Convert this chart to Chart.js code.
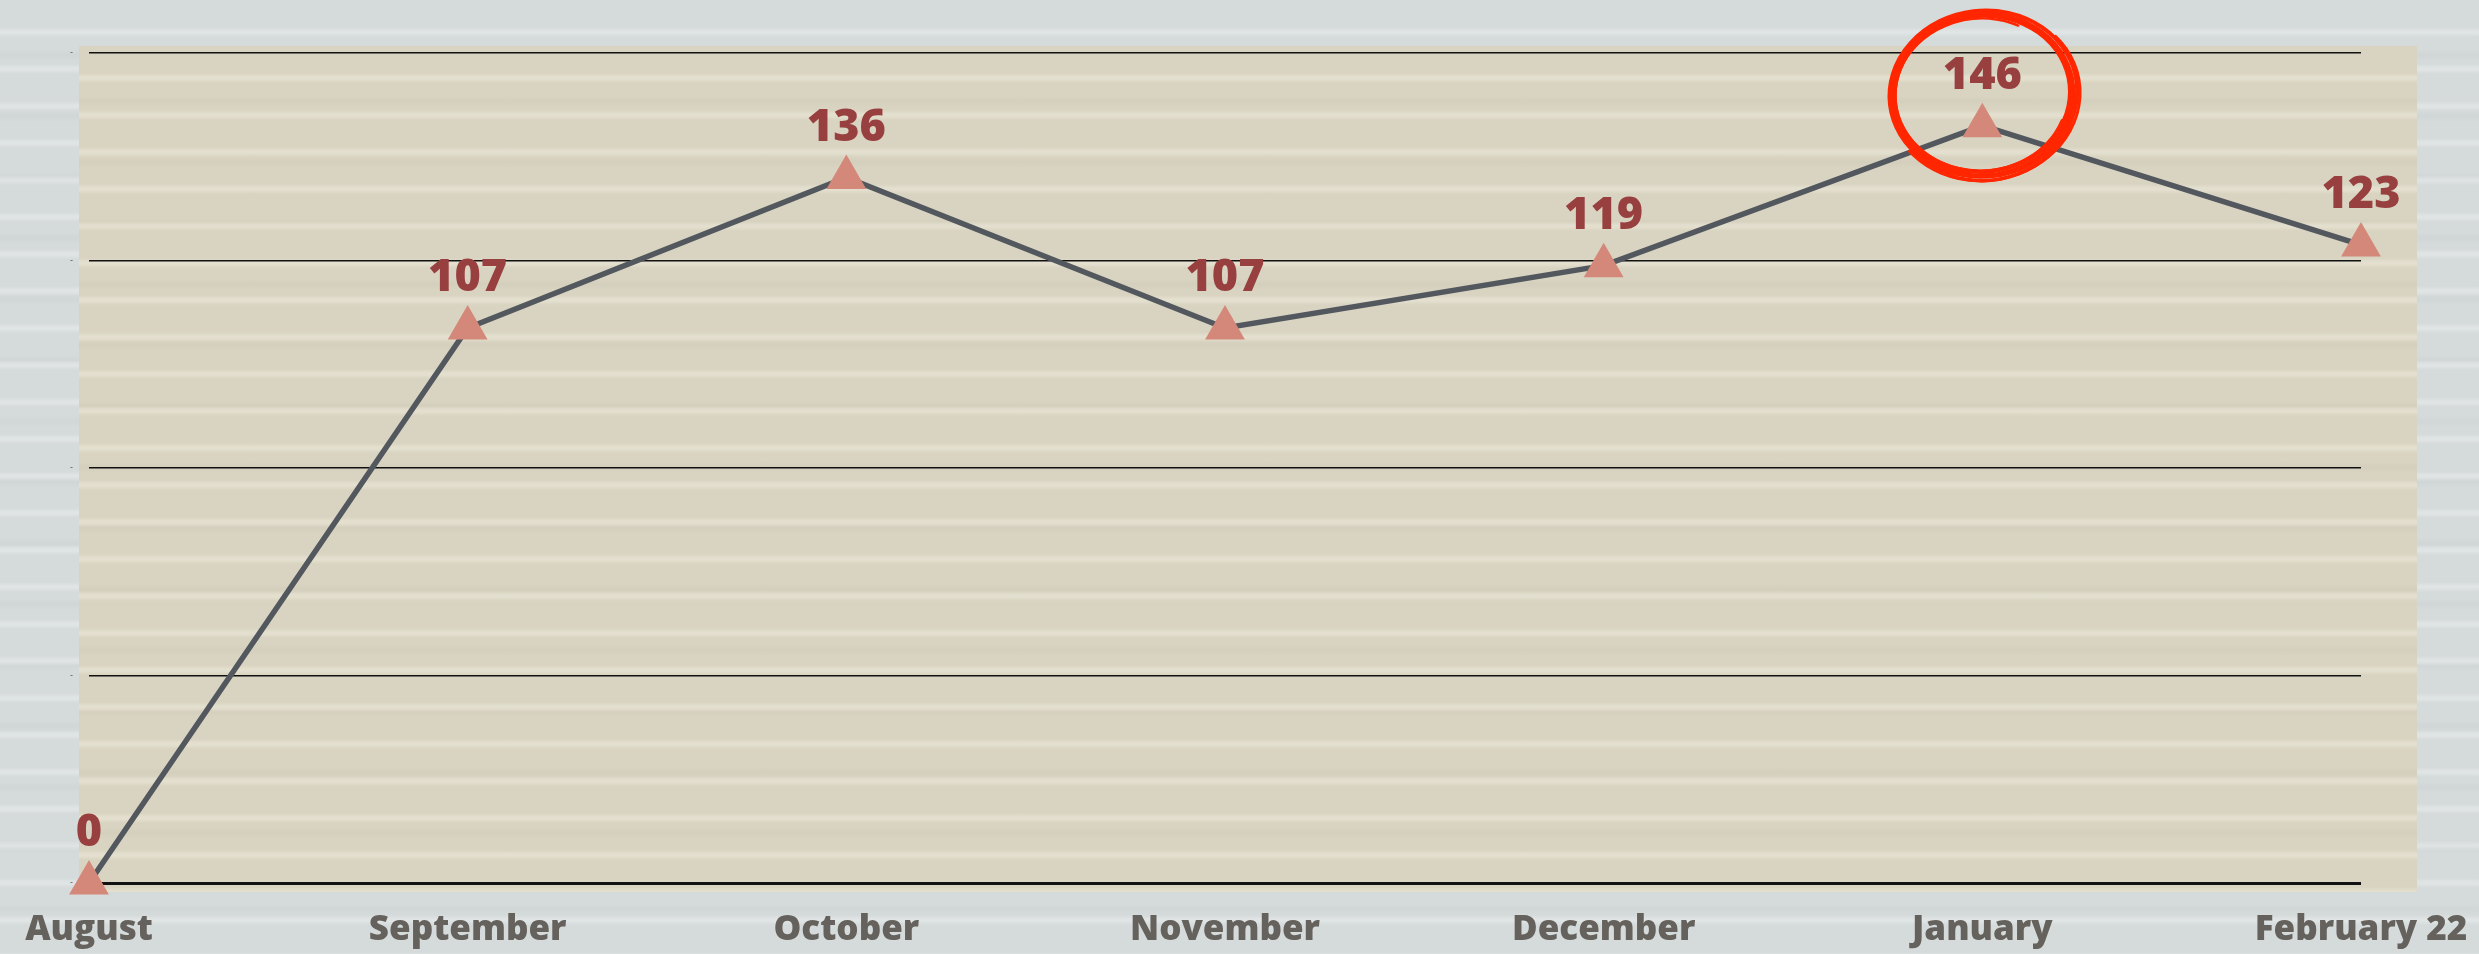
<!DOCTYPE html>
<html lang="en">
<head>
    <meta charset="UTF-8">
    <title>Monthly Line Chart</title>
    <script src="https://cdn.jsdelivr.net/npm/chart.js@4.4.1/dist/chart.umd.min.js"></script>
    <style>
        html, body { margin: 0; padding: 0; }
        body {
            width: 2479px;
            height: 954px;
            overflow: hidden;
            background-color: #d5dadb;
            background-image:
                repeating-linear-gradient(180deg,
                    rgba(236,240,240,0) 0px, rgba(236,240,240,0) 27px,
                    rgba(236,240,240,0.45) 31px, rgba(236,240,240,0.45) 33px,
                    rgba(236,240,240,0) 37px),
                repeating-linear-gradient(180deg,
                    rgba(200,205,207,0) 0px, rgba(200,205,207,0) 50px,
                    rgba(200,205,207,0.35) 55px, rgba(200,205,207,0) 61px);
        }
        #panel {
            position: absolute;
            left: 79px; top: 46px;
            width: 2338px; height: 846px;
            background-color: #d9d4c1;
            background-image:
                repeating-linear-gradient(180deg,
                    rgba(232,228,212,0) 0px, rgba(232,228,212,0) 27px,
                    rgba(232,228,212,0.7) 31px, rgba(232,228,212,0.7) 33px,
                    rgba(232,228,212,0) 37px),
                repeating-linear-gradient(180deg,
                    rgba(204,199,183,0) 0px, rgba(204,199,183,0) 50px,
                    rgba(204,199,183,0.35) 55px, rgba(204,199,183,0) 61px);
        }
        #wrap { position: absolute; left: 0; top: 0; width: 2479px; height: 954px; }
    </style>
</head>
<body>
    <div id="panel"></div>
    <div id="wrap"><canvas id="lineChart" width="2479" height="954"></canvas></div>

    <script>
        // chart data
        var months = ['August', 'September', 'October', 'November', 'December', 'January', 'February 22'];
        var counts = [0, 107, 136, 107, 119, 146, 123];
        var yTicks = [0, 40, 80, 120, 160];
        var circledMonth = 'January';

        // value labels above each triangle
        var valueLabels = {
            id: 'valueLabels',
            afterDatasetsDraw: function (chart) {
                var ctx = chart.ctx;
                var meta = chart.getDatasetMeta(0);
                ctx.save();
                ctx.font = '800 45px "Open Sans"';
                ctx.fillStyle = '#983f3f';
                ctx.textAlign = 'center';
                ctx.textBaseline = 'alphabetic';
                meta.data.forEach(function (pt, i) {
                    ctx.fillText(String(counts[i]), pt.x, pt.y - 37);
                });
                ctx.restore();
            }
        };

        // hand drawn red ring round the highlighted month
        var redRing = {
            id: 'redRing',
            afterDraw: function (chart) {
                var i = months.indexOf(circledMonth);
                var x = chart.scales.x.getPixelForValue(i);
                var y = chart.scales.y.getPixelForValue(counts[i]) - 32;
                var ctx = chart.ctx;
                ctx.save();
                ctx.strokeStyle = '#ff2600';
                ctx.lineCap = 'round';
                // [dx, dy, rx, ry, rotation, width, start, end]
                var strokes = [
                    [0, 0, 88, 78, -0.10, 4.5, 0, 6.3],
                    [0, 1, 91, 81, -0.08, 4.5, 0, 6.3],
                    [1, 0, 94, 83, -0.12, 4, 0, 6.3],
                    [-1, 1, 86, 76, -0.05, 2.5, 0.4, 5.2],
                    [2, 2, 96, 85, -0.15, 3, -0.6, 2.6],
                    [0, 3, 93, 84, -0.02, 3.5, 0.2, 2.4],
                    [-2, -1, 90, 79, -0.20, 2, 3.4, 5.9]
                ];
                strokes.forEach(function (s) {
                    ctx.lineWidth = s[5];
                    ctx.beginPath();
                    ctx.ellipse(x + s[0], y + s[1], s[2], s[3], s[4], s[6], s[7]);
                    ctx.stroke();
                });
                ctx.restore();
            }
        };

        var ctx = document.getElementById('lineChart').getContext('2d');
        var chart = new Chart(ctx, {
            type: 'line',
            data: {
                labels: months,
                datasets: [{
                    data: counts,
                    clip: false,
                    borderColor: '#52585e',
                    borderWidth: 5.5,
                    tension: 0,
                    pointStyle: 'triangle',
                    pointRadius: 23,
                    pointBackgroundColor: '#d4887a',
                    pointBorderWidth: 0,
                    pointBorderColor: '#d4887a'
                }, {
                    // small white dot at the centre of each triangle
                    data: counts,
                    clip: false,
                    showLine: false,
                    pointRadius: 1.6,
                    pointBackgroundColor: '#ffffff',
                    pointBorderWidth: 0
                }]
            },
            options: {
                responsive: false,
                devicePixelRatio: 1,
                animation: false,
                layout: { padding: { top: 53, right: 118, left: 0, bottom: 0 } },
                plugins: {
                    legend: { display: false },
                    tooltip: { enabled: false }
                },
                scales: {
                    x: {
                        offset: false,
                        grid: { display: false, drawTicks: false },
                        border: { display: false },
                        afterFit: function (s) {
                            s.height = 71;
                            s.paddingLeft = 0;
                            s.paddingRight = 0;
                        },
                        ticks: {
                            autoSkip: false,
                            maxRotation: 0,
                            padding: 26,
                            color: '#65615c',
                            font: { family: 'Open Sans', weight: '800', size: 35 }
                        }
                    },
                    y: {
                        min: 0,
                        max: 160,
                        afterFit: function (s) { s.width = 89; },
                        afterBuildTicks: function (s) {
                            s.ticks = yTicks.map(function (v) { return { value: v }; });
                        },
                        grid: {
                            color: '#111111',
                            drawTicks: false,
                            lineWidth: function (c) { return c.tick && c.tick.value === 0 ? 3 : 1.5; }
                        },
                        border: { display: false },
                        ticks: {
                            padding: 16,
                            color: '#555555',
                            font: { size: 9 },
                            callback: function () { return '-'; }
                        }
                    }
                }
            },
            plugins: [valueLabels, redRing]
        });
    </script>
</body>
</html>
